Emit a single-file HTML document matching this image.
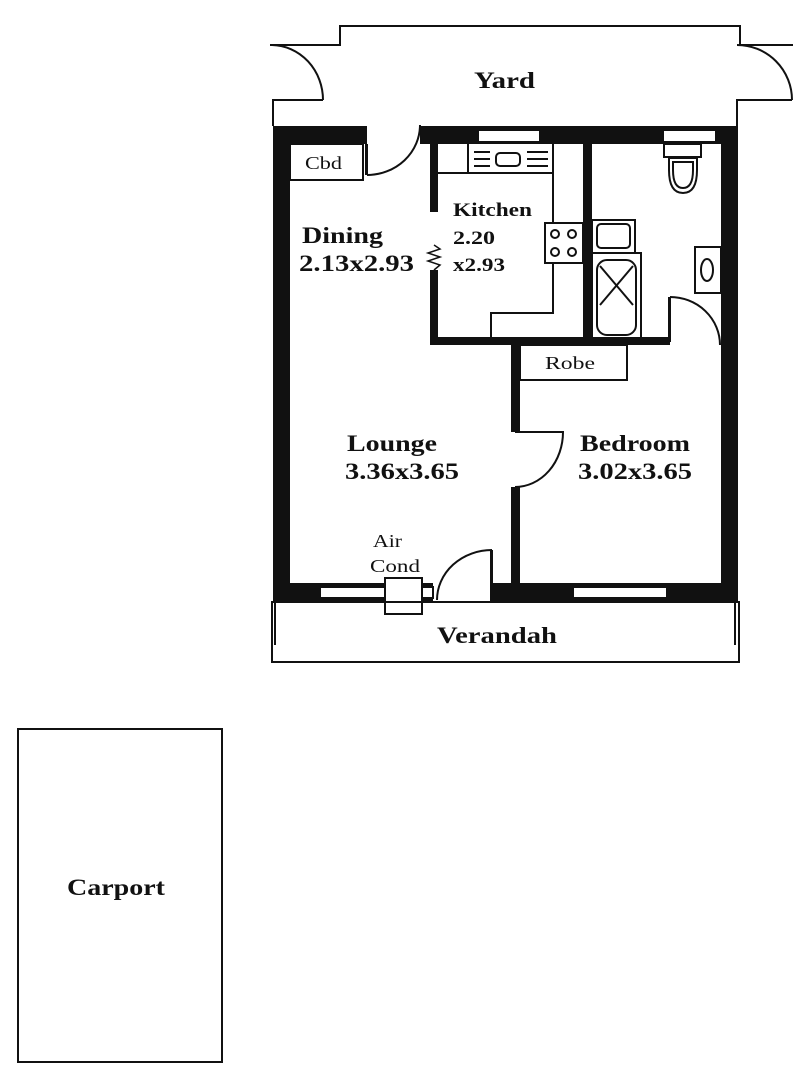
<!DOCTYPE html>
<html><head><meta charset="utf-8"><style>
html,body{margin:0;padding:0;background:#fff;width:800px;height:1075px;overflow:hidden}
svg{display:block}
.b{font-family:"Liberation Serif",serif;font-weight:bold;fill:#111}
.n{font-family:"Liberation Serif",serif;fill:#111}
</style></head><body>
<svg width="800" height="1075" viewBox="0 0 800 1075" xmlns="http://www.w3.org/2000/svg">
<g fill="none" stroke="#111" stroke-width="2">
<polyline points="273,126 273,100 323,100"/>
<path d="M270,45 L340,45 L340,26 L740,26 L740,45 L793,45"/>
<path d="M272,45 A52,55 0 0 1 323,100"/>
<path d="M737,45 A55,55 0 0 1 792,100"/>
<polyline points="792,100 737,100 737,126"/>
</g>
<g fill="#111">
<rect x="273" y="126" width="17" height="476"/>
<rect x="721" y="126" width="17" height="476"/>
<rect x="273" y="126" width="94" height="18"/>
<rect x="420" y="126" width="318" height="18"/>
<rect x="273" y="583" width="160" height="19"/>
<rect x="492" y="583" width="246" height="19"/>
<rect x="430" y="144" width="8" height="68"/>
<rect x="430" y="270" width="8" height="75"/>
<rect x="430" y="337" width="240" height="8"/>
<rect x="583" y="144" width="9" height="200"/>
<rect x="511" y="345" width="9" height="87"/>
<rect x="511" y="487" width="9" height="98"/>
<rect x="365" y="144" width="3" height="31"/>
<rect x="490" y="550" width="3" height="52"/>
<rect x="668" y="297" width="3" height="45"/>
</g>
<g fill="#fff" stroke="#111" stroke-width="2">
<rect x="478" y="130" width="62" height="12"/>
<rect x="663" y="130" width="53" height="12"/>
<rect x="320" y="587" width="113" height="11"/>
<rect x="573" y="587" width="94" height="11"/>
<rect x="385" y="578" width="37" height="36"/>
</g>
<g fill="none" stroke="#111" stroke-width="2">
<path d="M367,175 A53,50 0 0 0 420,125"/>
<path d="M492,550 A55,50 0 0 0 437,600"/>
<path d="M670,297 A50,48 0 0 1 720,345"/>
<path d="M515,432 L563,432 A48,55 0 0 1 515,487"/>
<polyline points="434,245 440,249 428,253 440,257 428,261 440,265 434,270" stroke-width="1.5"/>
<rect x="290" y="144" width="73" height="36"/>
<polyline points="438,173 553,173"/>
<line x1="468" y1="144" x2="468" y2="173"/>
<polyline points="553,144 553,313 491,313 491,342"/>
<rect x="545" y="223" width="38" height="40" fill="#fff"/>
<circle cx="555" cy="234" r="4"/><circle cx="572" cy="234" r="4"/>
<circle cx="555" cy="252" r="4"/><circle cx="572" cy="252" r="4"/>
<rect x="496" y="153" width="24" height="13" rx="4"/>
<line x1="474" y1="152" x2="490" y2="152"/><line x1="474" y1="159" x2="490" y2="159"/><line x1="474" y1="166" x2="490" y2="166"/>
<line x1="527" y1="152" x2="548" y2="152"/><line x1="527" y1="159" x2="548" y2="159"/><line x1="527" y1="166" x2="548" y2="166"/>
<rect x="592" y="220" width="43" height="33"/>
<rect x="597" y="224" width="33" height="24" rx="4"/>
<rect x="592" y="253" width="49" height="89"/>
<rect x="597" y="260" width="39" height="75" rx="10"/>
<line x1="600" y1="266" x2="633" y2="305"/><line x1="633" y1="266" x2="600" y2="305"/>
<rect x="664" y="144" width="37" height="13"/>
<path d="M669,158 L697,158 L697,170 Q697,193 683,193 Q669,193 669,170 Z"/>
<path d="M673,162 L693,162 L693,170 Q693,188 683,188 Q673,188 673,170 Z"/>
<rect x="695" y="247" width="26" height="46"/>
<ellipse cx="707" cy="270" rx="6" ry="11"/>
<rect x="520" y="345" width="107" height="35"/>
<polyline points="275,602 275,645"/>
<polyline points="735,602 735,645"/>
<rect x="272" y="602" width="467" height="60"/>
<rect x="18" y="729" width="204" height="333"/>
</g>
<g class="b" font-size="23">
<text x="474" y="88" textLength="61" lengthAdjust="spacingAndGlyphs">Yard</text>
<text x="302" y="243" textLength="81" lengthAdjust="spacingAndGlyphs">Dining</text>
<text x="299" y="271" textLength="115" lengthAdjust="spacingAndGlyphs">2.13x2.93</text>
<text x="453" y="216" font-size="19" textLength="79" lengthAdjust="spacingAndGlyphs">Kitchen</text>
<text x="453" y="244" font-size="19" textLength="42" lengthAdjust="spacingAndGlyphs">2.20</text>
<text x="453" y="271" font-size="19" textLength="52" lengthAdjust="spacingAndGlyphs">x2.93</text>
<text x="347" y="451" textLength="90" lengthAdjust="spacingAndGlyphs">Lounge</text>
<text x="345" y="479" textLength="114" lengthAdjust="spacingAndGlyphs">3.36x3.65</text>
<text x="580" y="451" textLength="110" lengthAdjust="spacingAndGlyphs">Bedroom</text>
<text x="578" y="479" textLength="114" lengthAdjust="spacingAndGlyphs">3.02x3.65</text>
<text x="437" y="643" textLength="120" lengthAdjust="spacingAndGlyphs">Verandah</text>
<text x="67" y="895" textLength="98" lengthAdjust="spacingAndGlyphs">Carport</text>
</g>
<g class="n" font-size="18">
<text x="305" y="169" textLength="37" lengthAdjust="spacingAndGlyphs">Cbd</text>
<text x="545" y="369" textLength="50" lengthAdjust="spacingAndGlyphs">Robe</text>
<text x="373" y="547" textLength="29" lengthAdjust="spacingAndGlyphs">Air</text>
<text x="370" y="572" textLength="50" lengthAdjust="spacingAndGlyphs">Cond</text>
</g>
</svg>
</body></html>
